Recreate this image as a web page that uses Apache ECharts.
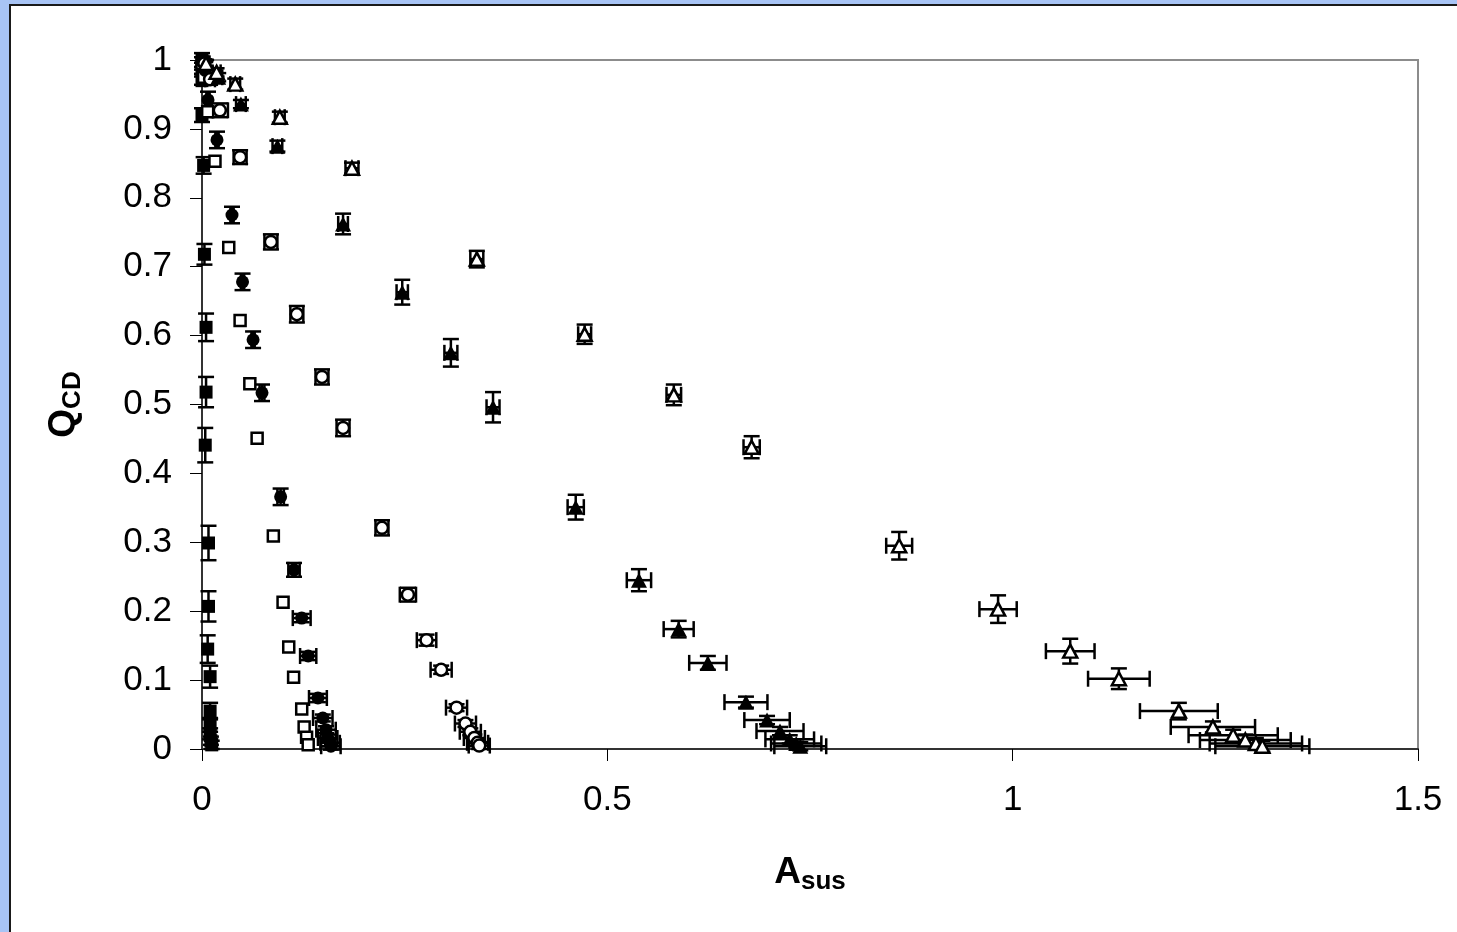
<!DOCTYPE html>
<html><head><meta charset="utf-8">
<script src="https://cdn.jsdelivr.net/npm/echarts@6/dist/echarts.min.js"></script>
<style>
html,body{margin:0;padding:0;width:1457px;height:932px;overflow:hidden;background:#A8C4F5;}
#panel{position:absolute;left:9px;top:4px;width:1460px;height:940px;background:#fff;border:2px solid #1a1a1a;}
#chart{position:absolute;left:0;top:0;width:1457px;height:932px;}
</style></head><body><div id="panel"></div><div id="chart"></div>
<script>
// ---- Data: [x, y, xErr, yErr] ----
const xTicks = [0, 0.5, 1, 1.5];
const yTicks = [0, 0.1, 0.2, 0.3, 0.4, 0.5, 0.6, 0.7, 0.8, 0.9, 1];

const sqFilledX = [0.0, 0.0, 0.0, 0.0, 0.002, 0.003, 0.005, 0.005, 0.004, 0.008, 0.008, 0.007, 0.010, 0.010, 0.010, 0.010, 0.011, 0.012];
const sqFilledY = [1.0, 0.985, 0.97, 0.92, 0.847, 0.718, 0.612, 0.518, 0.441, 0.299, 0.207, 0.145, 0.105, 0.055, 0.035, 0.022, 0.012, 0.006];
const sqFilledEx = [0, 0, 0, 0, 0, 0, 0, 0, 0, 0, 0, 0, 0, 0, 0, 0, 0, 0];
const sqFilledEy = [0.004, 0.005, 0.006, 0.010, 0.012, 0.015, 0.020, 0.022, 0.025, 0.025, 0.022, 0.020, 0.016, 0.012, 0.010, 0.008, 0.006, 0.006];

const sqOpenX = [0.0, 0.002, 0.007, 0.016, 0.033, 0.047, 0.059, 0.068, 0.088, 0.100, 0.107, 0.113, 0.123, 0.126, 0.129, 0.131];
const sqOpenY = [0.995, 0.975, 0.925, 0.853, 0.728, 0.622, 0.530, 0.451, 0.309, 0.213, 0.148, 0.104, 0.058, 0.032, 0.017, 0.006];

const circFilledX = [0.0, 0.004, 0.0074, 0.0185, 0.037, 0.050, 0.063, 0.074, 0.097, 0.1135, 0.123, 0.131, 0.143, 0.149, 0.153, 0.155, 0.158, 0.159];
const circFilledY = [0.998, 0.985, 0.942, 0.884, 0.775, 0.678, 0.594, 0.517, 0.366, 0.260, 0.190, 0.135, 0.074, 0.045, 0.028, 0.016, 0.009, 0.004];
const circFilledEx = [0.002, 0.002, 0.002, 0.002, 0.002, 0.002, 0.002, 0.003, 0.004, 0.007, 0.011, 0.010, 0.011, 0.012, 0.012, 0.012, 0.012, 0.012];
const circFilledEy = [0.012, 0.012, 0.012, 0.012, 0.012, 0.012, 0.012, 0.012, 0.012, 0.010, 0.006, 0.006, 0.006, 0.005, 0.005, 0.005, 0.005, 0.005];

const circOpenX = [0.003, 0.010, 0.022, 0.047, 0.085, 0.117, 0.148, 0.174, 0.222, 0.254, 0.277, 0.295, 0.314, 0.325, 0.331, 0.336, 0.340, 0.342];
const circOpenY = [0.995, 0.972, 0.927, 0.859, 0.736, 0.631, 0.540, 0.466, 0.321, 0.224, 0.158, 0.115, 0.060, 0.037, 0.025, 0.016, 0.009, 0.005];
const circOpenEx = [0.004, 0.006, 0.010, 0.008, 0.008, 0.008, 0.008, 0.008, 0.008, 0.010, 0.012, 0.013, 0.013, 0.013, 0.013, 0.013, 0.013, 0.013];
const circOpenEy = [0.006, 0.008, 0.010, 0.010, 0.011, 0.012, 0.011, 0.012, 0.011, 0.010, 0.008, 0.006, 0.005, 0.005, 0.005, 0.005, 0.005, 0.005];

const triFilledX = [0.005, 0.020, 0.048, 0.093, 0.174, 0.247, 0.307, 0.359, 0.461, 0.539, 0.588, 0.624, 0.671, 0.697, 0.713, 0.725, 0.733, 0.738];
const triFilledY = [0.995, 0.975, 0.936, 0.875, 0.762, 0.663, 0.575, 0.496, 0.351, 0.245, 0.174, 0.125, 0.068, 0.042, 0.026, 0.014, 0.008, 0.004];
const triFilledEx = [0.004, 0.005, 0.006, 0.006, 0.006, 0.007, 0.008, 0.008, 0.010, 0.015, 0.0185, 0.023, 0.0265, 0.028, 0.029, 0.030, 0.031, 0.032];
const triFilledEy = [0.005, 0.006, 0.006, 0.008, 0.015, 0.018, 0.020, 0.022, 0.018, 0.016, 0.012, 0.010, 0.008, 0.006, 0.006, 0.006, 0.006, 0.006];

const triOpenX = [0.005, 0.018, 0.041, 0.096, 0.185, 0.339, 0.472, 0.582, 0.678, 0.860, 0.982, 1.071, 1.131, 1.205, 1.247, 1.272, 1.287, 1.300, 1.308];
const triOpenY = [0.995, 0.982, 0.965, 0.917, 0.843, 0.711, 0.602, 0.514, 0.438, 0.295, 0.203, 0.142, 0.102, 0.055, 0.032, 0.020, 0.013, 0.008, 0.004];
const triOpenEx = [0.004, 0.005, 0.006, 0.006, 0.008, 0.008, 0.008, 0.009, 0.010, 0.016, 0.023, 0.030, 0.038, 0.048, 0.052, 0.055, 0.056, 0.057, 0.058];
const triOpenEy = [0.005, 0.006, 0.008, 0.008, 0.008, 0.012, 0.014, 0.015, 0.016, 0.020, 0.020, 0.018, 0.015, 0.012, 0.008, 0.008, 0.008, 0.008, 0.008];

function zip(xs, ys, exs, eys) {
  return xs.map((x, i) => [x, ys[i], exs ? exs[i] : 0, eys ? eys[i] : 0]);
}
const sets = [
  { name: 'sqFilled', data: zip(sqFilledX, sqFilledY, sqFilledEx, sqFilledEy), symbol: 'rect', size: 13, fill: '#000' },
  { name: 'sqOpen', data: zip(sqOpenX, sqOpenY), symbol: 'rect', size: 11, fill: '#fff' },
  { name: 'circFilled', data: zip(circFilledX, circFilledY, circFilledEx, circFilledEy), symbol: 'circle', size: 13, fill: '#000' },
  { name: 'circOpen', data: zip(circOpenX, circOpenY, circOpenEx, circOpenEy), symbol: 'circle', size: 12, fill: '#fff' },
  { name: 'triFilled', data: zip(triFilledX, triFilledY, triFilledEx, triFilledEy), symbol: 'triangle', size: [16, 15], fill: '#000' },
  { name: 'triOpen', data: zip(triOpenX, triOpenY, triOpenEx, triOpenEy), symbol: 'triangle', size: [14, 13], fill: '#fff' }
];

const CAP = 8;
function errRender(params, api) {
  const x = api.value(0), y = api.value(1), ex = api.value(2), ey = api.value(3);
  const children = [];
  const style = { stroke: '#000', lineWidth: 2.5 };
  if (ey > 0) {
    const top = api.coord([x, y + ey]);
    const bot = api.coord([x, y - ey]);
    children.push({ type: 'line', shape: { x1: top[0], y1: top[1], x2: bot[0], y2: bot[1] }, style });
    children.push({ type: 'line', shape: { x1: top[0] - CAP, y1: top[1], x2: top[0] + CAP, y2: top[1] }, style });
    children.push({ type: 'line', shape: { x1: bot[0] - CAP, y1: bot[1], x2: bot[0] + CAP, y2: bot[1] }, style });
  }
  if (ex > 0) {
    const l = api.coord([x - ex, y]);
    const r = api.coord([x + ex, y]);
    children.push({ type: 'line', shape: { x1: l[0], y1: l[1], x2: r[0], y2: r[1] }, style });
    children.push({ type: 'line', shape: { x1: l[0], y1: l[1] - CAP, x2: l[0], y2: l[1] + CAP }, style });
    children.push({ type: 'line', shape: { x1: r[0], y1: r[1] - CAP, x2: r[0], y2: r[1] + CAP }, style });
  }
  return { type: 'group', children };
}

const series = [];
sets.forEach(s => {
  series.push({ type: 'custom', name: s.name + 'Err', renderItem: errRender, data: s.data, z: 2, silent: true, clip: false,
    encode: { x: 0, y: 1 } });
});
sets.forEach(s => {
  series.push({ type: 'scatter', name: s.name, data: s.data.map(d => [d[0], d[1]]), symbol: s.symbol, symbolSize: s.size,
    itemStyle: { color: s.fill, borderColor: '#000', borderWidth: s.fill === '#fff' ? 2.5 : 0, opacity: 1 }, z: 3, silent: true });
});

const chart = echarts.init(document.getElementById('chart'), null, { renderer: 'canvas' });
const FONT = 'Liberation Sans, Arial, sans-serif';
chart.setOption({
  animation: false,
  grid: { left: 202, right: 39, top: 60, bottom: 183, show: true, borderColor: '#8c8c8c', borderWidth: 2, backgroundColor: 'transparent' },
  xAxis: {
    type: 'value', min: xTicks[0], max: xTicks[xTicks.length - 1], interval: 0.5,
    axisLine: { show: true, onZero: false, lineStyle: { color: '#333', width: 2 } },
    axisTick: { show: true, length: 12, lineStyle: { color: '#000', width: 1 } },
    splitLine: { show: false },
    axisLabel: { fontFamily: FONT, fontSize: 35, color: '#000', margin: 34 },
    name: '{a|A}{b|sus}', nameLocation: 'middle', nameGap: 102,
    nameTextStyle: { rich: {
      a: { fontFamily: FONT, fontSize: 37, fontWeight: 'bold', color: '#000' },
      b: { fontFamily: FONT, fontSize: 26, fontWeight: 'bold', color: '#000', padding: [18, 0, 0, 0] }
    } }
  },
  yAxis: {
    type: 'value', min: yTicks[0], max: yTicks[yTicks.length - 1], interval: 0.1,
    axisLine: { show: true, onZero: false, lineStyle: { color: '#333', width: 2 } },
    axisTick: { show: true, length: 12, lineStyle: { color: '#000', width: 1 } },
    splitLine: { show: false },
    axisLabel: { fontFamily: FONT, fontSize: 35, color: '#000', margin: 30 },
    name: '{a|Q}{b|CD}', nameLocation: 'middle', nameGap: 116, nameRotate: 90,
    nameTextStyle: { rich: {
      a: { fontFamily: FONT, fontSize: 37, fontWeight: 'bold', color: '#000' },
      b: { fontFamily: FONT, fontSize: 26, fontWeight: 'bold', color: '#000', padding: [18, 0, 0, 0] }
    } }
  },
  series
});
</script>
</body></html>
